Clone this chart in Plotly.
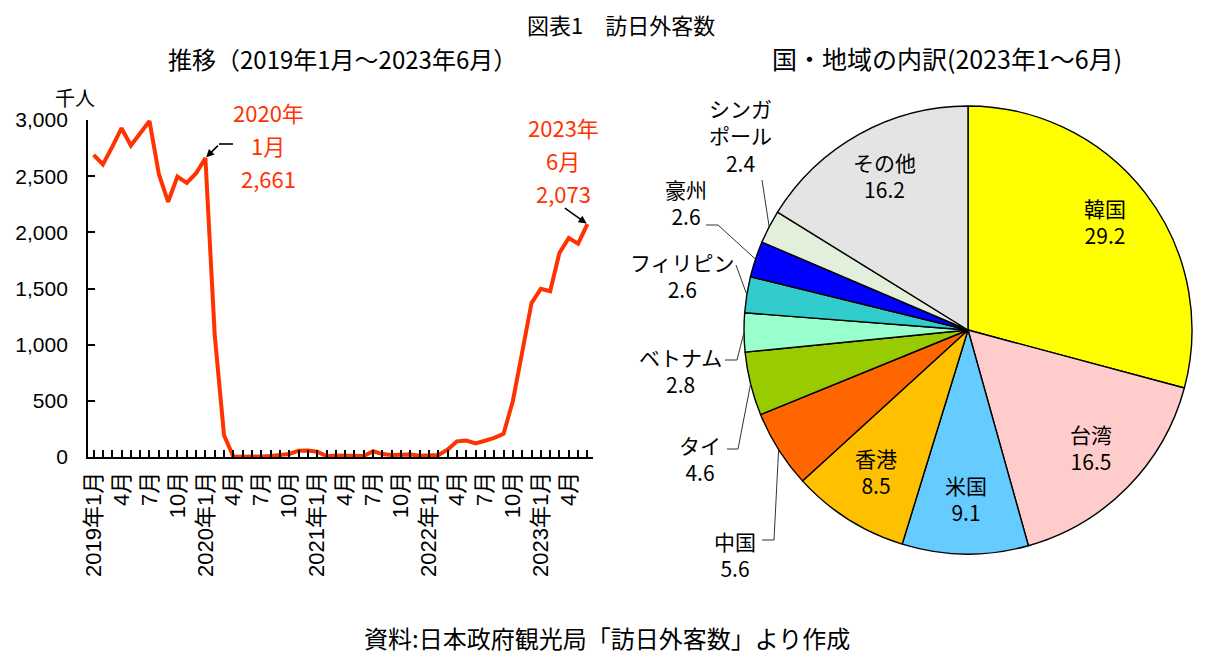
import math
import plotly.graph_objects as go

# 訪日外客数（千人）2019年1月～2023年6月
visitors = [
    2689, 2604, 2760, 2927, 2773, 2880, 2991, 2520, 2272, 2497, 2441, 2526,
    2661, 1085, 194, 2.9, 1.7, 2.6, 3.8, 8.7, 13.7, 27.4, 56.7, 58.7,
    46.5, 7.4, 12.3, 10.9, 10.0, 9.3, 51.1, 25.9, 17.7, 22.1, 21.9, 12.1,
    17.8, 16.7, 66.1, 139.5, 147.0, 120.4, 144.5, 169.9, 206.5, 498.6, 934.5, 1370.1,
    1497.3, 1475.3, 1817.5, 1949.1, 1899.2, 2073.3,
]
years = [2019, 2020, 2021, 2022, 2023]

# 国・地域の内訳（%）
countries = ['韓国', '台湾', '米国', '香港', '中国', 'タイ', 'ベトナム',
             'フィリピン', '豪州', 'シンガポール', 'その他']
shares = [29.2, 16.5, 9.1, 8.5, 5.6, 4.6, 2.8, 2.6, 2.6, 2.4, 16.2]
colors = ['#FFFF00', '#FFCCCC', '#66CCFF', '#FFC000', '#FF6600', '#99CC00',
          '#99FFCC', '#33CCCC', '#0000FF', '#E2EFDA', '#E4E4E4']
inside = ['韓国', '台湾', '米国', '香港', 'その他']

# ページの余白(8px)の分だけ図を小さくする
OFF = 8
W, H = 1216 - 2 * OFF, 662 - 2 * OFF
FONT = 'Liberation Sans, Noto Sans CJK JP'
JP = 'Noto Sans CJK JP, Liberation Sans'
RED = '#FF3300'


def px(x, y):
    return (x - OFF) / W, 1 - (y - OFF) / H


# x軸のラベル（3か月ごと）
months = list(range(len(visitors)))
ticktext = []
for i in months:
    y = years[i // 12]
    m = i % 12 + 1
    if m % 3 != 1:
        ticktext.append('')
    elif m == 1:
        ticktext.append(f'{y}年{m}月')
    else:
        ticktext.append(f'{m}月')

fig = go.Figure()

fig.add_trace(go.Scatter(
    x=months, y=visitors, mode='lines',
    line=dict(color=RED, width=4),
    showlegend=False, hoverinfo='x+y',
))

# 円グラフ
cx, cy, r = 968, 330, 224
fig.add_trace(go.Pie(
    labels=countries, values=shares, sort=False, direction='clockwise',
    rotation=0, marker=dict(colors=colors, line=dict(color='black', width=1.4)),
    textinfo='none',
    domain=dict(x=[px(cx - r, 0)[0], px(cx + r, 0)[0]],
                y=[px(0, cy + r)[1], px(0, cy - r)[1]]),
    showlegend=False,
))

fig.update_layout(
    width=W, height=H,
    margin=dict(l=0, r=0, t=0, b=0),
    paper_bgcolor='white', plot_bgcolor='white',
    font=dict(family=FONT, size=20, color='black'),
    xaxis=dict(
        domain=[px(88, 0)[0], px(593, 0)[0]], range=[-0.6, len(visitors) - 0.4],
        tickvals=months, ticktext=ticktext, tickangle=-90,
        ticks='inside', ticklen=7, tickcolor='black', tickwidth=1.5,
        showline=True, linecolor='black', linewidth=1.8,
        showgrid=False, zeroline=False, automargin=False,
        ticklabelstandoff=4,
        tickfont=dict(size=22, family=FONT),
    ),
    yaxis=dict(
        domain=[px(0, 457)[1], px(0, 120)[1]], range=[0, 3000],
        tickvals=[0, 500, 1000, 1500, 2000, 2500, 3000], tickformat=',d',
        ticks='inside', ticklen=7, tickcolor='black', tickwidth=1.5,
        showline=True, linecolor='black', linewidth=1.8,
        showgrid=False, zeroline=False, automargin=False,
        ticklabelstandoff=14,
        tickfont=dict(size=21, family=FONT),
    ),
)

ann = []
shapes = []


def label(text, x, y, size=21, color='black'):
    ax, ay = px(x, y)
    ann.append(dict(x=ax, y=ay, xref='paper', yref='paper', text=text, showarrow=False,
                    font=dict(size=size, family=JP, color=color), borderpad=0,
                    xanchor='center', yanchor='middle', align='center'))


# タイトル
label('図表1\u3000訪日外客数', 621, 24, 22)
label('推移（2019年1月～2023年6月）', 342, 58, 24)
label('国・地域の内訳(2023年1～6月)', 947, 58, 25)
label('資料:日本政府観光局「訪日外客数」より作成', 607, 637, 24)
label('千人', 75, 97, 20)

# 折れ線の注記
i_peak = 12
i_last = len(visitors) - 1
ann.append(dict(x=i_peak, y=visitors[i_peak], xref='x', yref='y', text='',
                showarrow=True, arrowhead=2, arrowsize=1, arrowwidth=1.6, arrowcolor='black',
                ax=14, ay=-14, standoff=1))
x0, y0 = px(219, 144)
x1, y1 = px(233, 144)
shapes.append(dict(type='line', x0=x0, y0=y0, x1=x1, y1=y1, xref='paper', yref='paper',
                   line=dict(color='black', width=1.6)))
for line, y in zip(['2020年', '1月', f'{visitors[i_peak]:,.0f}'], [112, 145, 178]):
    label(line, 268, y, 22, RED)

ann.append(dict(x=i_last, y=visitors[i_last], xref='x', yref='y', text='',
                showarrow=True, arrowhead=2, arrowsize=1, arrowwidth=1.6, arrowcolor='black',
                ax=-24, ay=-17, standoff=1))
for line, y in zip(['2023年', '6月', f'{visitors[i_last]:,.0f}'], [127, 160, 193]):
    label(line, 563, y, 22, RED)

# 円グラフのラベルと引き出し線
outside = {
    'シンガポール': ((740, 135), 'シンガ<br>ポール<br>{v}', [(762, 180)]),
    '豪州': ((686, 202), '{c}<br>{v}', [(706, 225), (718, 225)]),
    'フィリピン': ((682, 275), '{c}<br>{v}', [(736, 265)]),
    'ベトナム': ((680, 370), '{c}<br>{v}', [(725, 360), (737, 360)]),
    'タイ': ((700, 458), '{c}<br>{v}', [(727, 449), (738, 449)]),
    '中国': ((735, 554), '{c}<br>{v}', [(762, 540), (774, 540)]),
}
total = sum(shares)
cum = 0
for c, s in zip(countries, shares):
    mid = (cum + s / 2) / total * 2 * math.pi
    cum += s
    if c in inside:
        lx = cx + 0.77 * r * math.sin(mid)
        ly = cy - 0.77 * r * math.cos(mid)
        label(f'{c}<br>{s}', lx, ly - 4, 21)
        continue
    (lx, ly), fmt, pts = outside[c]
    label(fmt.format(c=c, v=s), lx, ly, 21)
    ex = cx + r * math.sin(mid)
    ey = cy - r * math.cos(mid)
    path = 'M ' + ' L '.join(f'{px(x, y)[0]},{px(x, y)[1]}' for x, y in pts + [(ex, ey)])
    shapes.append(dict(type='path', path=path, xref='paper', yref='paper',
                       line=dict(color='#333333', width=1)))

fig.update_layout(annotations=ann, shapes=shapes)

fig.write_html("out.html")
